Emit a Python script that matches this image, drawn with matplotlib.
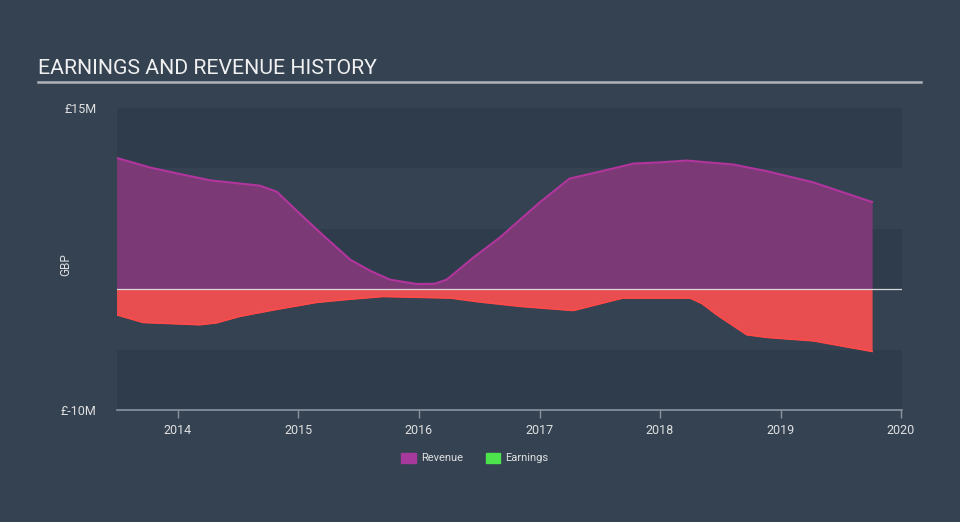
import matplotlib
matplotlib.use("Agg")
import matplotlib.pyplot as plt
from matplotlib.patches import Patch

# Data (GBP millions)
rev_x = [2013.49, 2013.77, 2014.0, 2014.27, 2014.68, 2014.82, 2014.99, 2015.2, 2015.43, 2015.6,
         2015.76, 2015.98, 2016.13, 2016.23, 2016.45, 2016.67, 2017.0, 2017.25, 2017.5, 2017.78,
         2018.0, 2018.22, 2018.61, 2018.89, 2019.27, 2019.76]
rev_y = [10.87, 10.07, 9.57, 9.01, 8.57, 8.07, 6.45, 4.5, 2.44, 1.5,
         0.79, 0.43, 0.45, 0.79, 2.61, 4.27, 7.17, 9.16, 9.73, 10.4,
         10.5, 10.65, 10.32, 9.76, 8.85, 7.22]
earn_x = [2013.49, 2013.71, 2014.18, 2014.32, 2014.51, 2014.8, 2015.15, 2015.4, 2015.7, 2016.26,
          2016.5, 2016.84, 2017.28, 2017.69, 2018.25, 2018.35, 2018.47, 2018.72, 2018.89, 2019.27, 2019.76]
earn_y = [-2.11, -2.75, -2.94, -2.78, -2.25, -1.7, -1.09, -0.85, -0.6, -0.73,
          -1.05, -1.42, -1.76, -0.73, -0.73, -1.2, -2.11, -3.77, -3.99, -4.27, -5.15]
year_ticks = [2014, 2015, 2016, 2017, 2018, 2019, 2020]
y_ticks = [15, -10]
y_tick_labels = ["£15M", "£-10M"]

BG = "#344252"
DARK = "#2f3c4c"

fig = plt.figure(figsize=(9.6, 5.22), dpi=100)
fig.patch.set_facecolor(BG)
ax = fig.add_axes([117/960, 1-410/522, (902-117)/960, (410-108)/522])
ax.set_facecolor(BG)
ax.set_xlim(2013.494, 2020.008)
ax.set_ylim(-10, 15)

# horizontal bands
for lo, hi in [(10, 15), (0, 5), (-10, -5)]:
    ax.axhspan(lo, hi, color=DARK, zorder=0, lw=0)

ax.fill_between(rev_x, 0, rev_y, color="#7b3a76", lw=0, zorder=2)
ax.plot(rev_x, rev_y, color="#b2359d", lw=1.5, zorder=3)
ax.fill_between(earn_x, 0, earn_y, color="#e84e4f", lw=0, zorder=2)
ax.plot(earn_x, earn_y, color="#ff4a4a", lw=1.2, zorder=3)
ax.axhline(0, color="#d8d8d8", lw=0.9, zorder=4)

for s in ["top", "right", "left"]:
    ax.spines[s].set_visible(False)
ax.spines["bottom"].set_color("#8a94a0")
ax.spines["bottom"].set_linewidth(1.2)
ax.set_xticks(year_ticks)
ax.set_xticklabels([str(y) for y in year_ticks])
ax.tick_params(axis="x", colors="#8a94a0", length=6, width=1, labelcolor="#e0e0e0", labelsize=9, pad=4)
ax.set_yticks(y_ticks)
ax.set_yticklabels(y_tick_labels)
ax.tick_params(axis="y", length=0, labelcolor="#e0e0e0", labelsize=9, pad=15)
for lbl in ax.get_xticklabels() + ax.get_yticklabels():
    lbl.set_fontfamily("Roboto")

fig.text(66/960, 1-265/522, "GBP", rotation=90, color="#e0e0e0", fontsize=8.5,
         fontfamily="Roboto", ha="center", va="center")

fig.text(38/960, 1-68/522, "EARNINGS AND REVENUE HISTORY", color="#f0f0f0", fontsize=15.3,
         fontfamily="Roboto", ha="left", va="center")
fig.add_artist(plt.Line2D([38/960, 921/960], [1-82/522, 1-82/522], color="#b0b4ba", lw=1.8))

handles = [Patch(color="#a6399b", label="Revenue"), Patch(color="#4de34d", label="Earnings")]
leg = fig.legend(handles=handles, loc="center", bbox_to_anchor=(475/960, 1-458/522), ncol=2,
                 frameon=False, handlelength=1.3, handleheight=1.0,
                 columnspacing=2.0, handletextpad=0.5, prop={"family": "Roboto", "size": 8})
for t in leg.get_texts():
    t.set_color("#e0e0e0")

fig.savefig("out.png", dpi=100, facecolor=BG)
